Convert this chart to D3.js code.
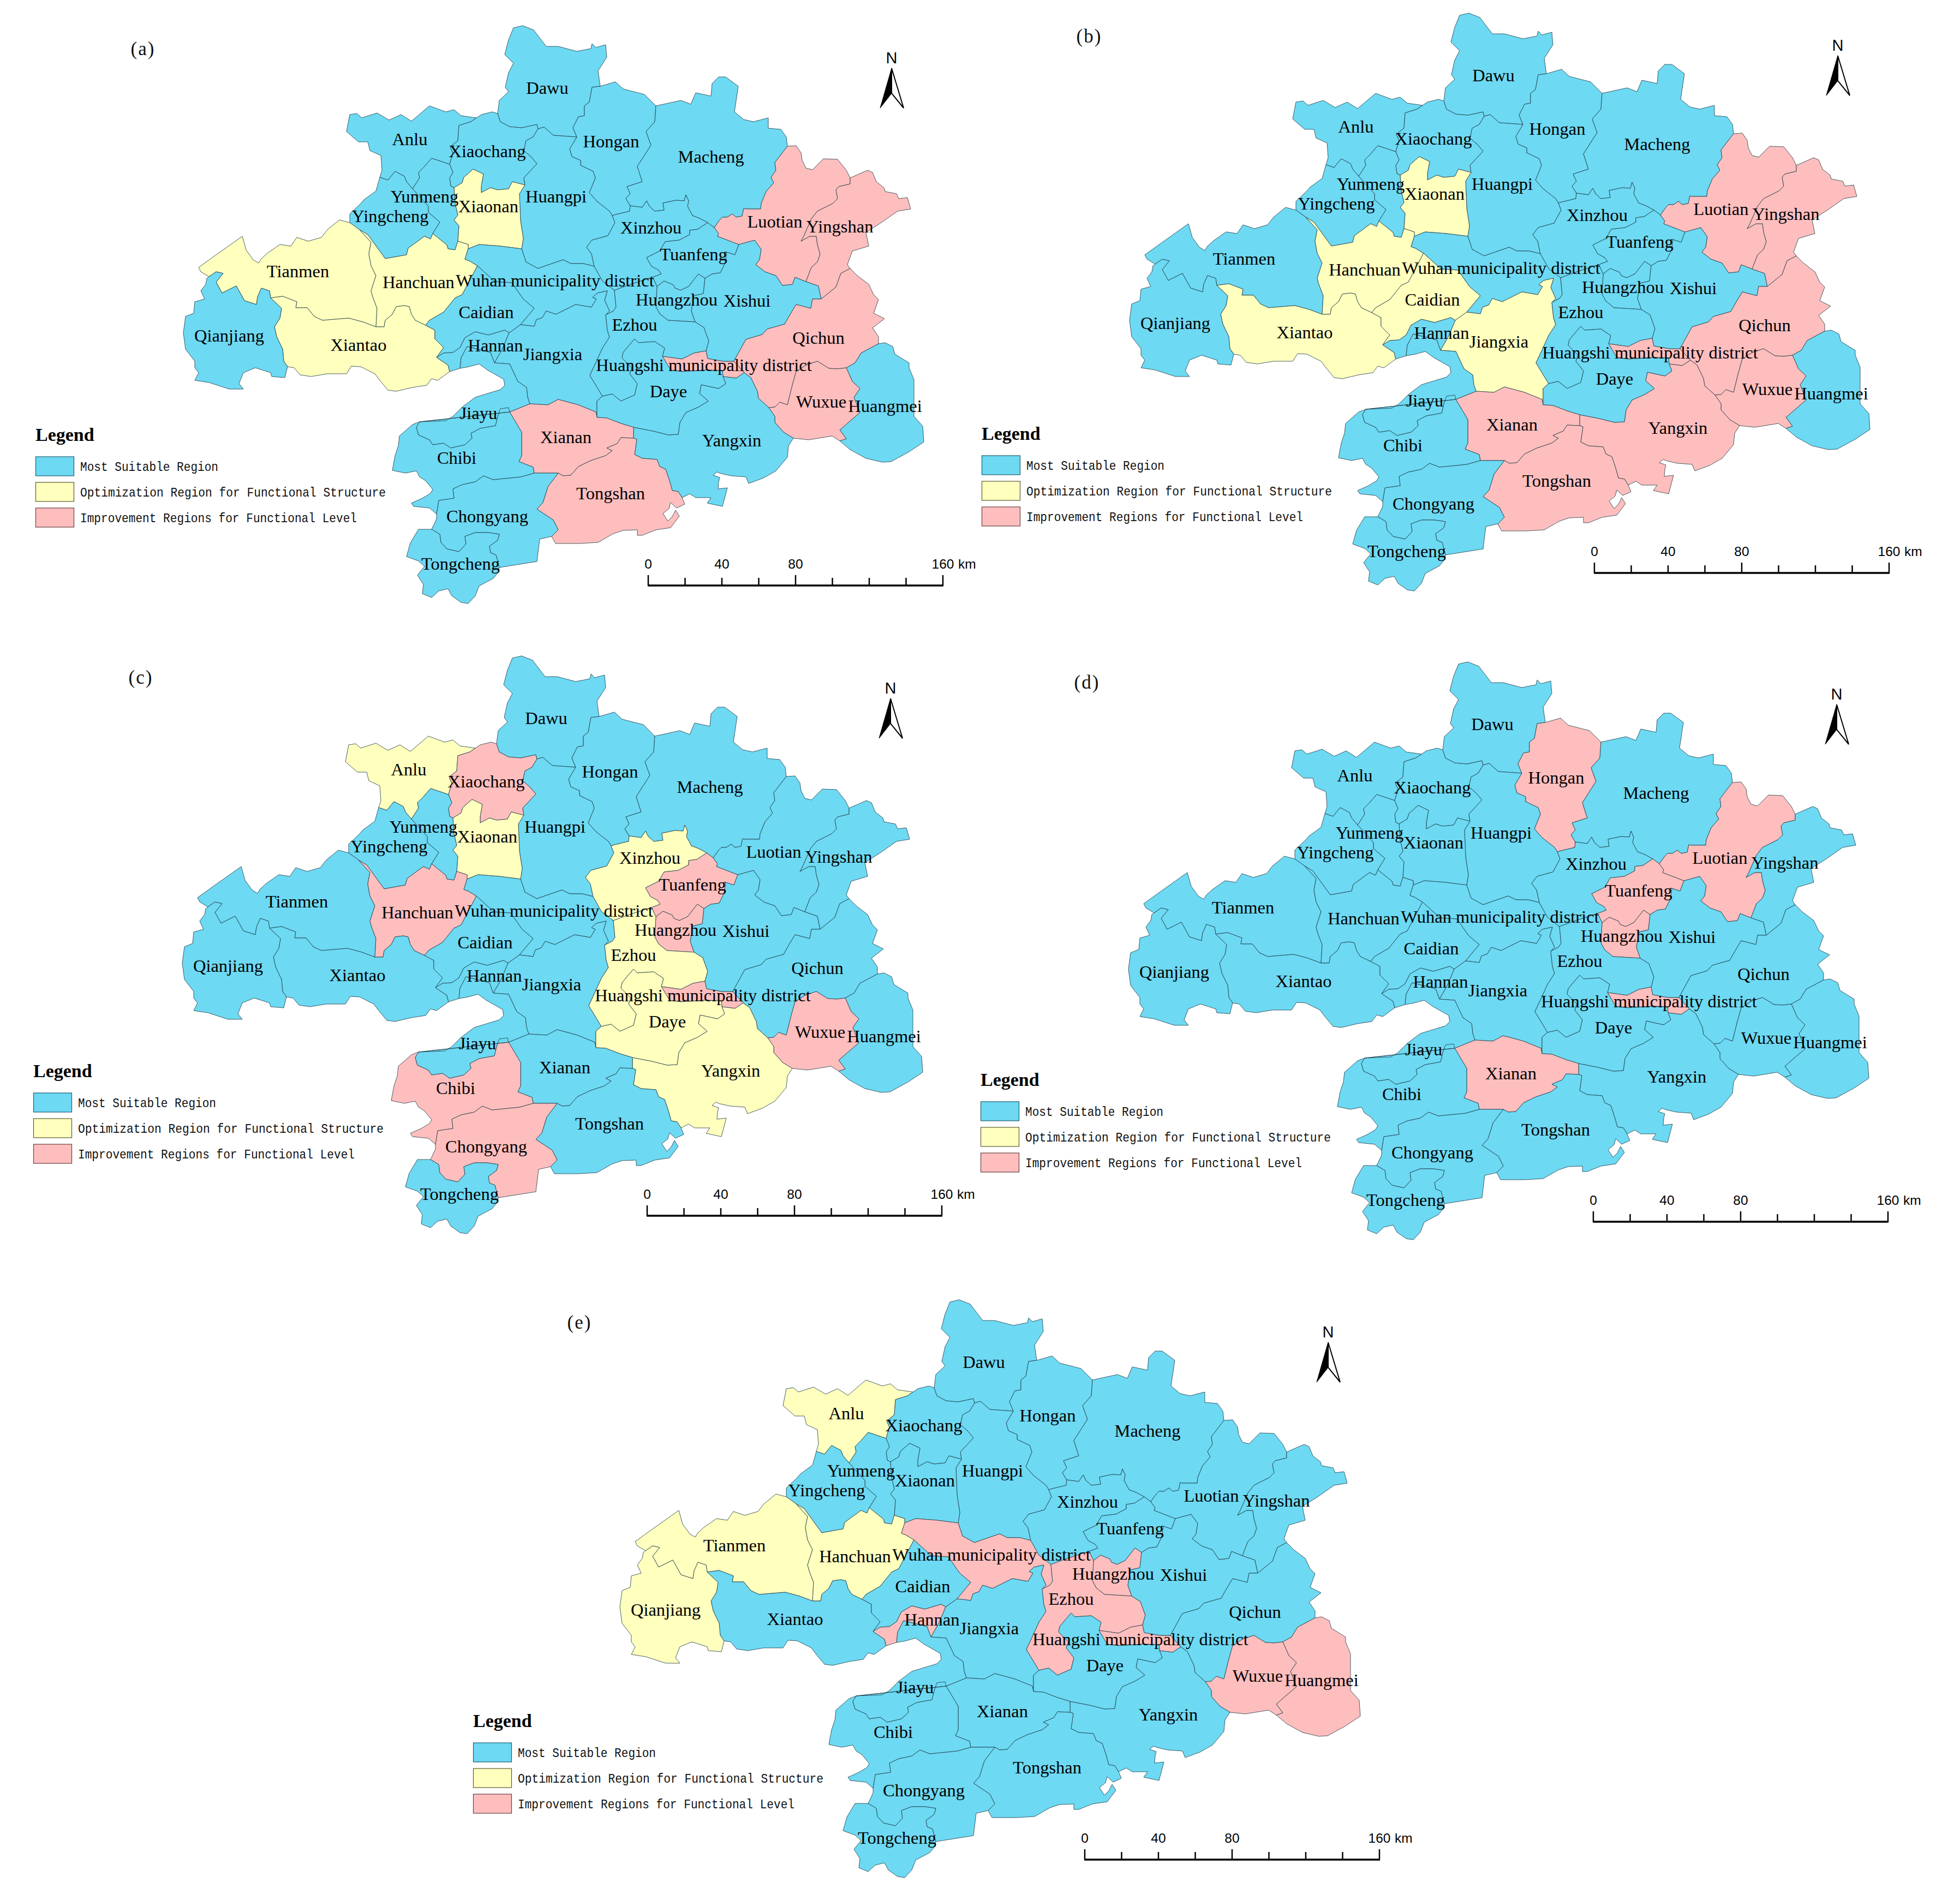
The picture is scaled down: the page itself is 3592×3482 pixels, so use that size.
<!doctype html>
<html>
<head>
<meta charset="utf-8">
<script src="https://d3js.org/d3.v7.min.js"></script>
<style type="text/css">
html,body{
    margin: 0;
    background: #fff;
}
</style>
</head>
<body>
<script type="text/javascript">
// shared boundaries, in the map units of panel (a)
var arcs = {
    anluN: [[641,210],[654,208],[663,216],[691,207],[713,220],[735,210],[754,222],[787,194],[817,205],[832,201],[845,212],[873,216],[863,223]],
    anluXiaochang: [[863,223],[841,230],[839,258],[825,269],[830,280],[824,301]],
    xiaochangN: [[863,223],[882,210],[902,205],[912,208]],
    dawuOuter: [[912,208],[915,184],[932,168],[926,160],[932,133],[941,116],[925,100],[932,73],[941,51],[958,47],[978,55],[1001,85],[1023,85],[1057,94],[1083,89],[1085,80],[1092,87],[1110,82],[1112,105],[1096,130],[1100,158]],
    dawuXiaochang: [[912,208],[917,223],[934,232],[956,234],[984,228],[986,236]],
    dawuHuangpi: [[986,236],[997,233],[1014,248],[1057,251]],
    dawuHongan: [[1057,251],[1050,234],[1060,214],[1071,212],[1071,194],[1080,187],[1085,160],[1100,158]],
    honganN: [[1100,158],[1128,150],[1142,163],[1181,173],[1202,194]],
    honganMacheng: [[1202,194],[1200,223],[1184,241],[1193,266],[1168,305],[1177,333],[1149,342],[1155,355],[1147,364],[1155,377]],
    honganHuangpi: [[1057,251],[1044,273],[1048,287],[1064,294],[1064,303],[1087,314],[1091,326],[1080,353],[1094,369],[1117,387],[1122,395]],
    honganXinzhou: [[1155,377],[1154,387],[1129,393],[1122,395]],
    machengN: [[1202,194],[1248,184],[1266,191],[1275,170],[1303,176],[1305,153],[1317,141],[1330,141],[1353,158],[1346,205],[1363,219],[1381,223],[1408,216],[1408,235],[1431,237],[1441,251],[1443,268]],
    machengLuotian: [[1443,268],[1420,298],[1422,312],[1413,325],[1418,335],[1404,351],[1395,373],[1394,383],[1367,383],[1363,382],[1360,396],[1349,398],[1342,392],[1333,398],[1324,398],[1319,403],[1309,417]],
    machengTuanfeng: [[1309,417],[1297,408]],
    machengXinzhou: [[1297,408],[1282,400],[1269,395],[1260,378],[1262,368],[1257,357],[1254,368],[1239,367],[1215,372],[1217,385],[1200,387],[1190,378],[1185,368],[1177,380],[1155,377]],
    huangpiXinzhou: [[1122,395],[1127,408],[1114,432],[1085,440],[1075,453],[1084,465],[1089,488]],
    wuhanXinzhou: [[1089,488],[1104,515],[1126,532]],
    ezhouXinzhou: [[1126,532],[1156,521],[1196,508]],
    xinzhouTuanfeng: [[1297,408],[1279,420],[1264,422],[1264,430],[1245,440],[1219,443],[1209,460],[1185,472],[1194,488],[1207,495],[1212,502],[1196,508]],
    ezhouTuanfeng: [[1196,508],[1204,525]],
    huangzhouTuanfeng: [[1204,525],[1217,515],[1234,522],[1237,528],[1247,532],[1262,525],[1280,502],[1292,510]],
    xishuiTuanfeng: [[1354,448],[1347,467],[1332,462],[1329,482],[1320,500],[1305,502],[1292,510]],
    luotianTuanfeng: [[1309,417],[1317,428],[1315,433],[1354,448]],
    huangzhouXishui: [[1292,510],[1289,538],[1272,542],[1267,570],[1274,590]],
    ezhouHuangzhou: [[1204,525],[1202,562],[1209,575],[1224,587],[1274,590]],
    ezhouXishui: [[1274,590],[1290,600],[1299,625],[1294,643]],
    ezhouHuangshi: [[1294,643],[1272,647],[1250,658],[1214,653]],
    huangshiXishui: [[1294,643],[1297,657],[1325,662],[1345,662]],
    huangshiQichun: [[1345,662],[1364,683]],
    huangshiYangxin: [[1364,683],[1349,693],[1325,690]],
    huangshiDaye: [[1325,690],[1324,679],[1295,678],[1250,681],[1229,678],[1214,653]],
    ezhouDaye: [[1214,653],[1218,638],[1200,626],[1170,628],[1163,621],[1151,635],[1142,646],[1140,656],[1158,674],[1154,685],[1168,703],[1163,724],[1138,735],[1122,722],[1104,726]],
    ezhouJiangxia: [[1110,577],[1113,605],[1117,618],[1104,638],[1095,658],[1081,688],[1095,711],[1104,726]],
    jiangxiaDaye: [[1104,726],[1094,735],[1094,765]],
    wuhanEzhou: [[1126,532],[1129,563],[1124,570],[1110,577]],
    wuhanJiangxia: [[1110,577],[1117,570],[1108,550],[1113,533],[1095,537],[1086,545],[1093,548],[1084,563],[1055,558],[1019,576],[1001,570],[994,582],[983,586],[979,598],[954,595]],
    wuhanCaidian: [[954,595],[979,565],[959,548],[938,518],[907,516],[875,487]],
    wuhanHanchuan: [[875,487],[860,478],[852,475],[858,456]],
    wuhanXiaonan: [[858,456],[878,448],[917,451],[956,456]],
    wuhanHuangpi: [[956,456],[964,480],[986,492],[1000,487],[1032,476],[1046,483],[1069,483],[1089,488]],
    xiaochangHuangpi: [[986,236],[977,251],[964,258],[960,276],[973,287],[984,300],[960,326],[962,339]],
    huangpiXiaonan: [[962,339],[952,355],[954,405],[959,437],[956,456]],
    xiaochangXiaonan: [[962,339],[939,333],[932,346],[912,348],[899,344],[882,353],[882,341],[886,319],[867,310],[850,325],[847,335],[832,344]],
    xiaochangYunmeng: [[824,301],[830,316],[824,326],[826,341],[832,344]],
    xiaonanYunmeng: [[832,344],[834,373],[839,394],[832,403],[841,414],[839,442]],
    hanchuanXiaonan: [[839,442],[858,448],[858,456]],
    anluYunmeng: [[824,301],[791,290],[778,305],[767,316],[769,326],[756,346]],
    anluYingcheng: [[756,346],[745,333],[741,323],[724,314],[711,330],[696,325]],
    anluW: [[696,325],[700,312],[698,285],[678,276],[674,260],[657,260],[635,241],[641,210]],
    yingchengYunmeng: [[756,346],[785,378],[785,389],[806,407],[793,428]],
    yingchengW: [[696,325],[689,350],[667,366],[661,373],[641,392],[641,408]],
    tianmenYingcheng: [[641,408],[659,421]],
    hanchuanYingcheng: [[659,421],[674,430],[706,474],[745,467],[748,455],[778,433],[789,438],[793,428]],
    hanchuanYunmeng: [[793,428],[819,449],[821,456],[834,458],[839,442]],
    tianmenHanchuan: [[659,421],[680,444],[676,465],[680,487],[689,505],[680,533],[683,544],[691,565],[689,599]],
    tianmenXiantao: [[496,546],[518,543],[544,553],[542,564],[563,564],[576,580],[591,587],[639,583],[665,590],[689,599]],
    tianmenQianjiang: [[383,507],[396,498],[409,501],[396,517],[407,537],[433,524],[448,551],[470,558],[472,544],[479,528],[494,533],[496,546]],
    tianmenN: [[383,507],[368,498],[364,490],[396,467],[444,433],[451,458],[464,476],[474,482],[479,474],[490,464],[513,448],[533,451],[544,435],[565,442],[589,435],[600,421],[622,403],[641,408]],
    qianjiangOuter: [[383,507],[379,510],[377,521],[368,533],[375,548],[357,553],[355,574],[340,580],[336,610],[340,640],[357,662],[357,674],[364,683],[357,697],[383,701],[420,713],[446,713],[438,703],[446,683],[468,674],[496,683],[498,690],[522,692],[527,672]],
    qianjiangXiantao: [[527,672],[520,662],[518,640],[507,617],[503,599],[513,583],[516,565],[496,546]],
    xiantaoS: [[527,672],[539,674],[550,687],[570,690],[600,685],[635,685],[644,671],[661,672],[687,685],[696,697],[711,715],[726,717],[756,710],[782,706],[791,694],[802,697],[824,681]],
    hanchuanXiantao: [[689,599],[704,599],[706,587],[719,576],[726,562],[741,560],[750,562],[754,576],[761,587],[780,596]],
    hanchuanCaidian: [[875,487],[847,540],[834,546],[813,572],[787,587],[780,596]],
    caidianXiantao: [[780,596],[797,605],[797,621],[813,637],[800,655]],
    hannanXiantao: [[800,655],[821,669],[824,681]],
    caidianHannan: [[800,655],[813,647],[830,646],[843,637],[852,619],[871,608],[895,614],[925,605],[933,610]],
    caidianJiangxia: [[933,610],[954,595]],
    hannanJiangxia: [[933,610],[921,639],[906,665]],
    hannanS: [[824,681],[843,675]],
    hannanJiayu: [[843,675],[845,656],[856,635],[899,646],[906,665]],
    jiangxiaJiayu: [[906,665],[934,667],[949,699],[965,710],[967,728],[971,740]],
    jiayuS: [[843,675],[860,672],[878,667],[893,678],[923,695],[925,706],[917,714],[871,728],[847,746],[830,763],[817,771],[769,773]],
    jiayuChibi: [[769,773],[763,783],[767,797],[787,806],[793,815],[813,812],[826,821],[852,815],[865,803],[863,794],[880,785],[908,780],[912,763],[917,749],[932,747],[934,755]],
    jiayuXianan: [[934,755],[971,740]],
    chibiXianan: [[934,755],[956,792],[956,835],[951,846],[977,856],[979,867]],
    jiangxiaXianan: [[971,740],[1004,742],[1023,732],[1060,742],[1092,755],[1094,765]],
    dayeXianan: [[1094,765],[1112,766],[1138,776],[1161,783]],
    xiananYangxin: [[1161,783],[1161,803]],
    xiananTongshan: [[1161,803],[1138,802],[1131,813],[1112,821],[1122,826],[1110,835],[1083,844],[1060,855],[1046,871],[1032,872],[1023,867]],
    tongshanYangxin: [[1161,803],[1167,805],[1163,833],[1177,840],[1204,842],[1209,855],[1220,860],[1227,881],[1232,899],[1243,901],[1250,912]],
    chongyangXianan: [[979,867],[1023,867]],
    chongyangTongshan: [[1023,867],[1004,892],[995,921],[984,933],[1014,953],[1023,971],[1011,983]],
    tongshanS: [[1250,912],[1255,924],[1240,931],[1229,921],[1226,932],[1215,941],[1224,955],[1232,947],[1238,935],[1245,946],[1229,967],[1202,971],[1177,981],[1168,981],[1168,971],[1142,972],[1124,978],[1096,994],[1062,996],[1034,996],[1018,996],[1011,983]],
    chongyangS: [[1011,983],[989,988],[984,1029],[915,1040]],
    chibiChongyang: [[979,867],[954,874],[904,879],[886,872],[871,883],[847,888],[830,896],[832,913],[804,917],[800,942]],
    chibiW: [[769,773],[756,778],[732,799],[730,817],[724,835],[719,862],[743,867],[763,863],[769,874],[780,881],[793,897],[789,904],[774,913],[754,922],[758,928],[787,931],[800,942]],
    chongyangW: [[800,942],[800,951],[791,970]],
    chongyangTongcheng: [[791,970],[806,979],[808,994],[819,1006],[841,1011],[854,997],[852,983],[871,976],[895,976],[915,979],[912,990],[897,1001],[899,1013],[909,1017],[915,1040]],
    tongchengOuter: [[915,1040],[913,1049],[904,1060],[878,1074],[871,1092],[858,1106],[845,1104],[828,1092],[821,1079],[804,1083],[791,1095],[774,1088],[776,1071],[765,1054],[778,1038],[767,1028],[745,1020],[752,995],[767,970],[791,970]],
    yangxinS: [[1454,803],[1445,817],[1443,838],[1422,863],[1399,876],[1372,886],[1367,874],[1340,872],[1322,868],[1314,865],[1307,871],[1319,875],[1317,883],[1316,896],[1333,894],[1324,928],[1296,922],[1303,912],[1275,912],[1264,905],[1250,912]],
    yangxinWuxue: [[1409,747],[1420,763],[1420,774],[1436,792],[1454,803]],
    qichunYangxin: [[1364,683],[1376,692],[1388,717],[1390,730],[1409,747]],
    qichunWuxue: [[1551,674],[1535,676],[1519,675],[1498,662],[1477,669],[1459,681],[1452,706],[1443,742],[1429,737],[1420,746],[1409,747]],
    wuxueS: [[1539,808],[1525,799],[1482,806],[1454,803]],
    huangmeiWuxue: [[1539,808],[1551,804],[1539,788],[1555,774],[1576,756],[1565,728],[1576,712],[1562,699],[1551,674]],
    huangmeiQichun: [[1551,674],[1567,665],[1578,647],[1610,630]],
    huangmeiOuter: [[1610,630],[1622,628],[1636,635],[1640,649],[1666,665],[1666,674],[1675,696],[1675,731],[1675,763],[1691,781],[1693,810],[1666,828],[1633,846],[1617,847],[1587,840],[1558,824],[1539,808]],
    qichunOuter: [[1558,492],[1571,505],[1592,521],[1601,540],[1610,549],[1601,574],[1621,584],[1599,601],[1610,617],[1610,630]],
    qichunYingshan: [[1505,548],[1532,526],[1541,501],[1558,492]],
    xishuiQichun: [[1345,662],[1362,631],[1367,622],[1397,613],[1406,603],[1438,594],[1447,578],[1459,558],[1486,565],[1489,548],[1505,548]],
    xishuiYingshan: [[1505,548],[1500,524],[1477,516]],
    luotianXishui: [[1354,448],[1383,440],[1395,457],[1392,476],[1385,485],[1402,498],[1422,505],[1434,523],[1452,521],[1457,508],[1477,516]],
    luotianYingshan: [[1477,516],[1487,490],[1498,480],[1503,466],[1498,448],[1496,433],[1484,433],[1468,442],[1473,433],[1487,401],[1498,387],[1526,373],[1535,364],[1532,348],[1537,342],[1558,337],[1558,326]],
    luotianN: [[1443,268],[1459,267],[1468,280],[1470,294],[1477,308],[1489,311],[1509,291],[1535,292],[1551,312],[1558,326]],
    yingshanN: [[1558,326],[1590,312],[1599,316],[1606,333],[1620,344],[1622,351],[1643,355],[1647,364],[1663,362],[1669,383],[1645,387],[1615,408],[1587,426],[1592,451],[1562,460],[1553,485],[1558,492]],
    yangxinDaye: [[1161,783],[1197,790],[1225,797],[1243,796],[1246,774],[1257,756],[1280,746],[1298,735],[1282,721],[1285,705],[1317,712],[1330,703],[1325,690]]
};

// each county is a ring of arcs, ~ walks the arc backwards
var rings = {
    "Anlu": "anluN anluXiaochang anluYunmeng anluYingcheng anluW",
    "Xiaochang": "xiaochangN dawuXiaochang xiaochangHuangpi xiaochangXiaonan ~xiaochangYunmeng ~anluXiaochang",
    "Dawu": "dawuOuter ~dawuHongan ~dawuHuangpi ~dawuXiaochang",
    "Hongan": "honganN honganMacheng honganXinzhou ~honganHuangpi dawuHongan",
    "Macheng": "machengN machengLuotian machengTuanfeng machengXinzhou ~honganMacheng",
    "Huangpi": "dawuHuangpi honganHuangpi huangpiXinzhou ~wuhanHuangpi ~huangpiXiaonan ~xiaochangHuangpi",
    "Xiaonan": "xiaochangXiaonan xiaonanYunmeng hanchuanXiaonan wuhanXiaonan ~huangpiXiaonan",
    "Yunmeng": "~anluYunmeng xiaochangYunmeng xiaonanYunmeng ~hanchuanYunmeng ~yingchengYunmeng",
    "Yingcheng": "~anluYingcheng yingchengYunmeng ~hanchuanYingcheng ~tianmenYingcheng ~yingchengW",
    "Tianmen": "tianmenN tianmenYingcheng tianmenHanchuan ~tianmenXiantao ~tianmenQianjiang",
    "Hanchuan": "hanchuanYingcheng hanchuanYunmeng hanchuanXiaonan ~wuhanHanchuan hanchuanCaidian ~hanchuanXiantao ~tianmenHanchuan",
    "Xiantao": "tianmenXiantao hanchuanXiantao caidianXiantao hannanXiantao ~xiantaoS qianjiangXiantao",
    "Qianjiang": "tianmenQianjiang ~qianjiangXiantao ~qianjiangOuter",
    "Caidian": "~hanchuanCaidian ~wuhanCaidian ~caidianJiangxia ~caidianHannan ~caidianXiantao",
    "Hannan": "caidianHannan hannanJiangxia ~hannanJiayu ~hannanS ~hannanXiantao",
    "Wuhan municipality district": "wuhanXiaonan wuhanHuangpi wuhanXinzhou wuhanEzhou wuhanJiangxia wuhanCaidian wuhanHanchuan",
    "Jiangxia": "~wuhanJiangxia ezhouJiangxia jiangxiaDaye ~jiangxiaXianan ~jiangxiaJiayu ~hannanJiangxia caidianJiangxia",
    "Xinzhou": "~machengXinzhou xinzhouTuanfeng ~ezhouXinzhou ~wuhanXinzhou ~huangpiXinzhou ~honganXinzhou",
    "Tuanfeng": "machengTuanfeng xinzhouTuanfeng ezhouTuanfeng huangzhouTuanfeng ~xishuiTuanfeng ~luotianTuanfeng",
    "Huangzhou": "huangzhouTuanfeng huangzhouXishui ~ezhouHuangzhou",
    "Ezhou": "ezhouXinzhou ezhouTuanfeng ezhouHuangzhou ezhouXishui ezhouHuangshi ezhouDaye ~ezhouJiangxia ~wuhanEzhou",
    "Huangshi municipality district": "~ezhouHuangshi huangshiXishui huangshiQichun huangshiYangxin huangshiDaye",
    "Xishui": "xishuiTuanfeng huangzhouXishui ezhouXishui huangshiXishui xishuiQichun xishuiYingshan ~luotianXishui",
    "Luotian": "luotianN ~luotianYingshan ~luotianXishui ~luotianTuanfeng ~machengLuotian",
    "Yingshan": "yingshanN ~qichunYingshan xishuiYingshan luotianYingshan",
    "Qichun": "qichunOuter ~huangmeiQichun qichunWuxue ~qichunYangxin ~huangshiQichun xishuiQichun qichunYingshan",
    "Huangmei": "huangmeiOuter huangmeiWuxue huangmeiQichun",
    "Wuxue": "~huangmeiWuxue wuxueS ~yangxinWuxue ~qichunWuxue",
    "Yangxin": "qichunYangxin yangxinWuxue yangxinS ~tongshanYangxin ~xiananYangxin yangxinDaye ~huangshiYangxin",
    "Daye": "~ezhouDaye ~huangshiDaye ~yangxinDaye ~dayeXianan ~jiangxiaDaye",
    "Xianan": "jiangxiaXianan dayeXianan xiananYangxin xiananTongshan ~chongyangXianan ~chibiXianan jiayuXianan",
    "Tongshan": "~xiananTongshan tongshanYangxin tongshanS ~chongyangTongshan",
    "Chongyang": "chongyangXianan chongyangTongshan chongyangS ~chongyangTongcheng ~chongyangW ~chibiChongyang",
    "Tongcheng": "chongyangTongcheng tongchengOuter",
    "Chibi": "~jiayuChibi chibiW ~chibiChongyang ~chibiXianan",
    "Jiayu": "hannanJiayu jiangxiaJiayu ~jiayuXianan jiayuChibi ~jiayuS"
};

// label anchors in the same map units
var labelAt = {
    "Dawu": [1003,163], "Anlu": [751,257], "Xiaochang": [893,279], "Yunmeng": [778,362], "Yingcheng": [715,398],
    "Xiaonan": [895,380], "Huangpi": [1019,362], "Hongan": [1120,261], "Macheng": [1303,289], "Luotian": [1420,408],
    "Yingshan": [1539,417], "Xinzhou": [1193,419], "Tuanfeng": [1271,468], "Xishui": [1369,553], "Huangzhou": [1240,551],
    "Wuhan municipality district": [1017,516], "Hanchuan": [767,519], "Tianmen": [546,499], "Caidian": [891,574],
    "Xiantao": [657,634], "Qianjiang": [420,617], "Hannan": [908,635], "Jiangxia": [1013,651], "Ezhou": [1163,597],
    "Qichun": [1500,621], "Huangshi municipality district": [1290,671], "Daye": [1225,719], "Wuxue": [1505,738],
    "Huangmei": [1622,746], "Xianan": [1037,803], "Yangxin": [1341,809], "Tongshan": [1119,906], "Jiayu": [877,759],
    "Chibi": [837,841], "Chongyang": [893,948], "Tongcheng": [844,1035]
};

var regionNames = ["Most Suitable Region", "Optimization Region for Functional Structure", "Improvement Regions for Functional Level"];
var regionColors = ["#6dd9f3", "#ffffbe", "#ffbebe"];
var regionEdges = ["#1f5f73", "#5a5a30", "#6a4040"];

// counties that are not Most Suitable in each panel
var panelLetters = ["(a)", "(b)", "(c)", "(d)", "(e)"];
var optimization = [
    ["Tianmen", "Hanchuan", "Xiantao", "Xiaonan"],
    ["Xiaonan", "Hanchuan", "Caidian", "Xiantao", "Jiangxia"],
    ["Anlu", "Xiaonan", "Xinzhou", "Ezhou", "Daye", "Yangxin"],
    [],
    ["Anlu", "Tianmen", "Hanchuan", "Qianjiang"]
];
var improvement = [
    ["Luotian", "Yingshan", "Qichun", "Wuxue", "Xianan", "Tongshan", "Huangshi municipality district"],
    ["Luotian", "Yingshan", "Qichun", "Wuxue", "Yangxin", "Xianan", "Tongshan", "Huangshi municipality district"],
    ["Xiaochang", "Hanchuan", "Tuanfeng", "Huangzhou", "Huangshi municipality district", "Wuxue", "Chibi", "Chongyang"],
    ["Hongan", "Luotian", "Tuanfeng", "Huangzhou", "Huangshi municipality district", "Xianan"],
    ["Wuhan municipality district", "Hannan", "Huangzhou", "Ezhou", "Huangshi municipality district", "Wuxue", "Huangmei"]
];

// where each panel sits relative to panel (a)
var mapOffsets = [[0,0],[1734,-23],[-2,1155],[1732,1166],[800,2335]];
var legendOffsets = [[0,0],[1734,-2],[-4,1166],[1732,1182],[802,2357]];
var letterPositions = [[262,90],[1996,67],[258,1242],[1992,1251],[1062,2424]];

var scaleTicks = d3.range(0,161,20);
var scaleLabels = [0,40,80,160];
var scaleMajor = [0,80,160];

var W = 3592, H = 3482;
var serif = "'Liberation Serif','Times New Roman',serif";
var sans = "'Liberation Sans',Arial,sans-serif";

var svg = d3.select("body").append("svg")
    .attr("width", W)
    .attr("height", H)
    .attr("viewBox", "0 0 " + W + " " + H)
    .style("display", "block");

function ringPoints(name){
    var pts = [];
    rings[name].split(" ").forEach(function(a){
        var back = a.charAt(0) === "~";
        var arc = arcs[back ? a.slice(1) : a];
        pts = pts.concat(back ? arc.slice().reverse() : arc);
    });
    return pts;
}

var color = d3.scaleOrdinal().domain([0,1,2]).range(regionColors);
var edge = d3.scaleOrdinal().domain([0,1,2]).range(regionEdges);
var counties = Object.keys(rings);

panelLetters.forEach(function(letter, p){
    var off = mapOffsets[p],
        leg = legendOffsets[p];
    var x = d3.scaleLinear().domain([0,W]).range([off[0],W+off[0]]),
        y = d3.scaleLinear().domain([0,H]).range([off[1],H+off[1]]);
    var line = d3.line().x(function(d){return x(d[0])}).y(function(d){return y(d[1])});

    function regionOf(name){
        if (optimization[p].indexOf(name) >= 0) return 1;
        if (improvement[p].indexOf(name) >= 0) return 2;
        return 0;
    }

    var g = svg.append("g").attr("class", "panel");

    g.selectAll("path.county").data(counties).enter().append("path")
        .attr("class", "county")
        .attr("d", function(d){return line(ringPoints(d)) + "Z"})
        .attr("fill", function(d){return color(regionOf(d))})
        .attr("stroke", "#1e3a44")
        .attr("stroke-width", 0.8)
        .attr("stroke-linejoin", "round");

    g.selectAll("text.name").data(counties).enter().append("text")
        .attr("class", "name")
        .attr("x", function(d){return x(labelAt[d][0])})
        .attr("y", function(d){return y(labelAt[d][1]) + 9})
        .attr("text-anchor", "middle")
        .attr("font-family", serif)
        .attr("font-size", 32.5)
        .attr("fill", "#000")
        .text(function(d){return d});

    // panel letter
    svg.append("text")
        .attr("x", letterPositions[p][0])
        .attr("y", letterPositions[p][1] + 11)
        .attr("text-anchor", "middle")
        .attr("font-family", serif)
        .attr("font-size", 35)
        .attr("letter-spacing", 2)
        .attr("fill", "#111")
        .text(letter);

    // north arrow
    var n = svg.append("g").attr("transform", "translate(" + (off[0]+1634) + "," + off[1] + ")");
    n.append("text").attr("y", 116).attr("text-anchor", "middle")
        .attr("font-family", sans).attr("font-size", 29).attr("fill", "#000").text("N");
    n.append("path").attr("d", "M0,125L22,198L0,171Z").attr("fill", "#fff").attr("stroke", "#000").attr("stroke-width", 2);
    n.append("path").attr("d", "M0,125L-21,198L0,171Z").attr("fill", "#000").attr("stroke", "#000").attr("stroke-width", 1);

    // scale bar
    var km = d3.scaleLinear().domain([0,160]).range([off[0]+1188, off[0]+1728]);
    var barY = off[1] + 1073;
    var s = svg.append("g");
    s.append("line").attr("x1", km(0)-1).attr("x2", km(160)+1)
        .attr("y1", barY).attr("y2", barY).attr("stroke", "#000").attr("stroke-width", 3.5);
    s.selectAll("line.tick").data(scaleTicks).enter().append("line")
        .attr("class", "tick")
        .attr("x1", km).attr("x2", km)
        .attr("y1", function(d){return barY - (scaleMajor.indexOf(d) >= 0 ? 19 : 14)})
        .attr("y2", barY)
        .attr("stroke", "#000").attr("stroke-width", 2.5);
    s.selectAll("text.km").data(scaleLabels).enter().append("text")
        .attr("class", "km")
        .attr("x", km)
        .attr("y", barY - 31)
        .attr("text-anchor", "middle")
        .attr("font-family", sans)
        .attr("font-size", 24.5)
        .attr("fill", "#000")
        .text(function(d){return d});
    s.append("text")
        .attr("x", km(160) + 28)
        .attr("y", barY - 31)
        .attr("font-family", sans)
        .attr("font-size", 24.5)
        .attr("fill", "#000")
        .text("km");

    // legend
    var l = svg.append("g").attr("transform", "translate(" + leg[0] + "," + leg[1] + ")");
    l.append("text").attr("x", 65).attr("y", 808)
        .attr("font-family", serif).attr("font-weight", "bold").attr("font-size", 34)
        .attr("fill", "#000").text("Legend");
    var rowY = d3.scaleLinear().domain([0,2]).range([837,931]);
    var rowLen = [253, 560, 507];
    regionNames.forEach(function(r, i){
        l.append("rect").attr("x", 65.5).attr("y", rowY(i)).attr("width", 70).attr("height", 35)
            .attr("fill", color(i)).attr("stroke", edge(i)).attr("stroke-width", 1.2);
        l.append("text").attr("x", 147).attr("y", rowY(i) + 26)
            .attr("font-family", "'Liberation Mono',monospace")
            .attr("font-size", 24)
            .attr("textLength", rowLen[i])
            .attr("lengthAdjust", "spacingAndGlyphs")
            .attr("fill", "#111")
            .text(r);
    });
});
</script>
</body>
</html>
